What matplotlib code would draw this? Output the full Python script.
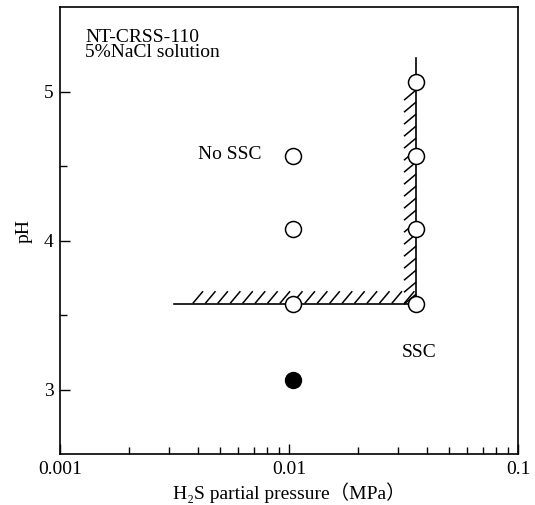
import numpy as np
import matplotlib
matplotlib.use("Agg")
import matplotlib.pyplot as plt
from matplotlib import patheffects

plt.rcParams['font.family'] = ['Liberation Serif', 'DejaVu Serif', 'Noto Sans CJK SC']
plt.rcParams['font.size'] = 14

# open circles: no cracking observed
open_x = [0.0104, 0.0104, 0.0104, 0.036, 0.036, 0.036, 0.036]
open_y = [3.58, 4.08, 4.57, 3.58, 4.08, 4.57, 5.07]
# filled circle: cracking
filled_x = [0.0104]
filled_y = [3.07]

# SSC boundary
bound_x = [0.00315, 0.036, 0.036]
bound_y = [3.58, 3.58, 5.23]
# hatched parts of the boundary
hatch_h_x = [0.0036, 0.034]
hatch_h_y = [3.585, 3.585]
hatch_v_x = [0.0357, 0.0357]
hatch_v_y = [3.60, 5.05]

fig = plt.figure(figsize=(5.35, 5.05), dpi=100)
ax = fig.add_axes([0.1121, 0.101, 0.8561, 0.885])

ax.plot(bound_x, bound_y, color='black', lw=1.2, zorder=2)
ticks_h = patheffects.withTickedStroke(spacing=8.6, angle=50, length=1.2, linewidth=1.1)
ticks_v = patheffects.withTickedStroke(spacing=8.6, angle=130, length=1.2, linewidth=1.1)
ax.plot(hatch_h_x, hatch_h_y, color='black', lw=0, path_effects=[ticks_h], zorder=2)
ax.plot(hatch_v_x, hatch_v_y, color='black', lw=0, path_effects=[ticks_v], zorder=2)

ax.plot(open_x, open_y, 'o', ms=11.5, mfc='white', mec='black', mew=1.1,
        ls='none', zorder=3)
ax.plot(filled_x, filled_y, 'o', ms=11.5, mfc='black', mec='black',
        ls='none', zorder=3)

ax.set_xscale('log')
ax.set_xlim(0.001, 0.1)
ax.set_ylim(2.57, 5.57)
ax.set_xticks([0.001, 0.01, 0.1])
ax.set_xticklabels(['0.001', '0.01', '0.1'])
ax.set_yticks([3, 4, 5])
ax.set_yticks([3.5, 4.5], minor=True)
ax.tick_params(which='both', direction='in', width=1.0)
ax.tick_params(which='major', length=7.2)
ax.tick_params(axis='y', which='major', pad=4.5)
ax.tick_params(axis='x', which='major', pad=5)
ax.tick_params(which='minor', length=5)
for sp in ax.spines.values():
    sp.set_linewidth(1.2)

ax.set_xlabel('H₂S partial pressure（MPa）', labelpad=3)
ax.set_ylabel('pH', labelpad=8)

ax.text(0.055, 0.952, 'NT-CRSS-110\n5%NaCl solution', transform=ax.transAxes,
        ha='left', va='top', linespacing=0.85)
ax.text(0.0055, 4.58, 'No SSC', ha='center', va='center')
ax.text(0.037, 3.25, 'SSC', ha='center', va='center')

fig.savefig('out.png', dpi=100)
